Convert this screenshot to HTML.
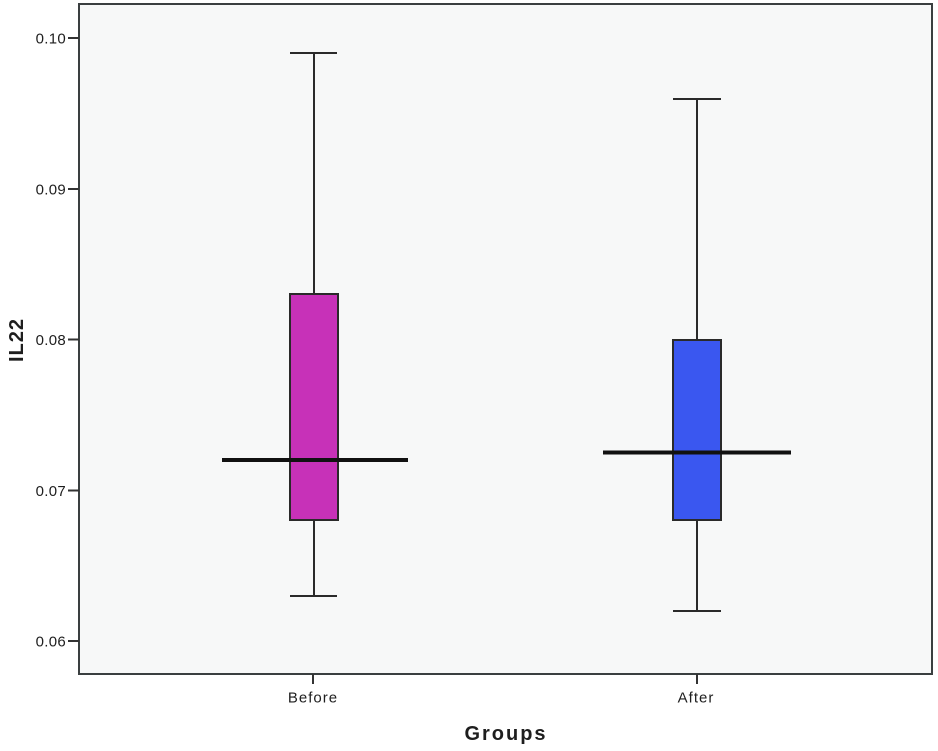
<!DOCTYPE html>
<html>
<head>
<meta charset="utf-8">
<style>
html,body{margin:0;padding:0;background:#ffffff;}
svg{display:block;}
text{font-family:"Liberation Sans",Arial,sans-serif;fill:#1e1e1e;}
</style>
</head>
<body>
<svg width="938" height="751" viewBox="0 0 938 751" xmlns="http://www.w3.org/2000/svg">
  <rect x="0" y="0" width="938" height="751" fill="#ffffff"/>
  <!-- plot area -->
  <rect x="79" y="4" width="853" height="670" fill="#f7f8f8" stroke="#3a3f40" stroke-width="2"/>

  <!-- ticks -->
  <g stroke="#333" stroke-width="2">
    <line x1="68" y1="38" x2="79" y2="38"/>
    <line x1="68" y1="189" x2="79" y2="189"/>
    <line x1="68" y1="339.5" x2="79" y2="339.5"/>
    <line x1="68" y1="490.5" x2="79" y2="490.5"/>
    <line x1="68" y1="641" x2="79" y2="641"/>
    <line x1="313" y1="674" x2="313" y2="684"/>
    <line x1="697" y1="674" x2="697" y2="684"/>
  </g>
  <g font-size="15" text-anchor="end" letter-spacing="0.3">
    <text x="66" y="43.5">0.10</text>
    <text x="66" y="194.5">0.09</text>
    <text x="66" y="345">0.08</text>
    <text x="66" y="496">0.07</text>
    <text x="66" y="646.5">0.06</text>
  </g>

  <!-- x labels -->
  <text x="313" y="702.5" font-size="15" text-anchor="middle" letter-spacing="1">Before</text>
  <text x="696" y="702.5" font-size="15" text-anchor="middle" letter-spacing="1">After</text>
  <text x="506" y="740" font-size="20" font-weight="bold" text-anchor="middle" letter-spacing="2">Groups</text>
  <text transform="translate(23,340) rotate(-90)" font-size="20" font-weight="bold" text-anchor="middle" letter-spacing="1">IL22</text>

  <!-- Before box -->
  <g stroke="#2a2a2a" stroke-width="2">
    <line x1="314" y1="53" x2="314" y2="294"/>
    <line x1="290" y1="53" x2="337" y2="53"/>
    <line x1="314" y1="520" x2="314" y2="596"/>
    <line x1="290" y1="596" x2="337" y2="596"/>
  </g>
  <rect x="290" y="294" width="48" height="226" fill="#c731b8" stroke="#2a2a2a" stroke-width="2"/>
  <line x1="222" y1="460" x2="408" y2="460" stroke="#111" stroke-width="4"/>

  <!-- After box -->
  <g stroke="#2a2a2a" stroke-width="2">
    <line x1="697" y1="99" x2="697" y2="340"/>
    <line x1="673" y1="99" x2="721" y2="99"/>
    <line x1="697" y1="520" x2="697" y2="611"/>
    <line x1="673" y1="611" x2="721" y2="611"/>
  </g>
  <rect x="673" y="340" width="48" height="180" fill="#3a57f0" stroke="#2a2a2a" stroke-width="2"/>
  <line x1="603" y1="452.5" x2="791" y2="452.5" stroke="#111" stroke-width="4"/>
</svg>
</body>
</html>
